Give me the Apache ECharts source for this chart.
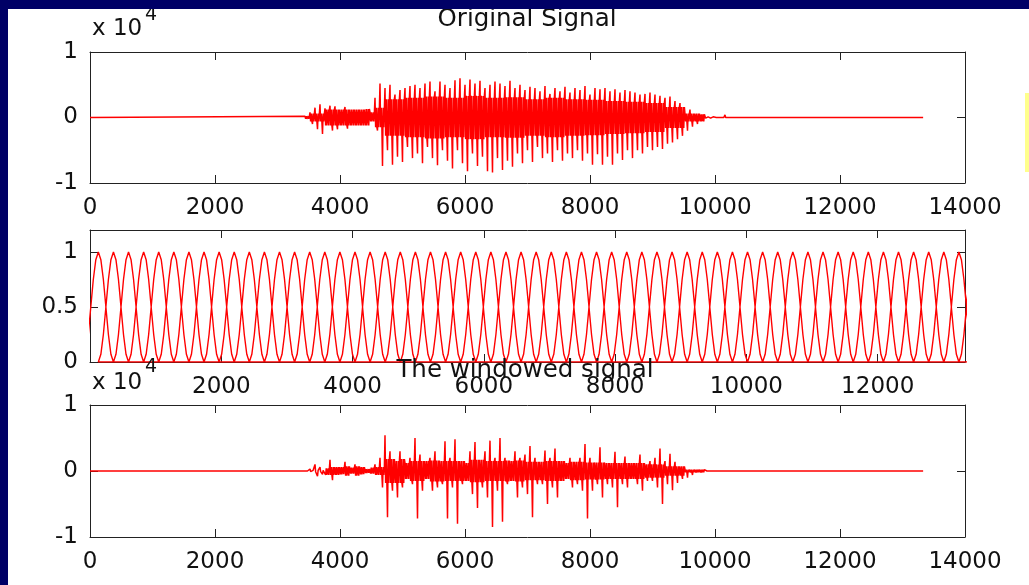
<!DOCTYPE html>
<html>
<head>
<meta charset="utf-8">
<title>Original Signal / The windowed signal</title>
<script src="https://cdn.jsdelivr.net/npm/echarts@6/dist/echarts.min.js"></script>
<style>
  html, body { margin: 0; padding: 0; background: #ffffff; }
  #main { width: 1029px; height: 585px; }
</style>
</head>
<body>
<div id="main"></div>
<script>
// tick labels
const sampleTicks = [0, 2000, 4000, 6000, 8000, 10000, 12000, 14000]
const winSampleTicks = [2000, 4000, 6000, 8000, 10000, 12000]
const ampTicks = [-1, 0, 1]          // x 10^4
const winAmpTicks = [0, 0.5, 1]
const titles = ['Original Signal', 'The windowed signal']

const signalLength = 13330

// speech envelope, read every 80 samples starting at sample 3440 (units of 10^4)
const envStart = 3440
const envStep = 80
const origTop = [0.02, 0.08, 0.15, 0.2, 0.14, 0.18, 0.17, 0.13, 0.16, 0.15, 0.12, 0.15, 0.13, 0.08,
  0.3, 0.52, 0.45, 0.5, 0.35, 0.42, 0.45, 0.48, 0.5, 0.45, 0.52, 0.55, 0.4, 0.55, 0.5, 0.45,
  0.57, 0.6, 0.5, 0.58, 0.52, 0.56, 0.45, 0.5, 0.55, 0.52, 0.48, 0.56, 0.45, 0.5, 0.42, 0.47,
  0.45, 0.4, 0.48, 0.36, 0.45, 0.4, 0.47, 0.38, 0.45, 0.42, 0.48, 0.35, 0.45, 0.43, 0.45, 0.4,
  0.43, 0.38, 0.42, 0.4, 0.38, 0.35, 0.36,
  0.38, 0.35, 0.33, 0.3, 0.32, 0.25, 0.22, 0.17, 0.12, 0.08, 0.05, 0.03, 0.01, 0, 0, 0.04, 0]
const origBot = [-0.02, -0.1, -0.18, -0.25, -0.15, -0.2, -0.18, -0.12, -0.17, -0.15, -0.13, -0.14, -0.12, -0.06,
  -0.2, -0.74, -0.5, -0.72, -0.6, -0.68, -0.45, -0.62, -0.55, -0.7, -0.45, -0.62, -0.73, -0.5, -0.66, -0.78,
  -0.5, -0.7, -0.82, -0.55, -0.74, -0.6, -0.82, -0.84, -0.62, -0.8, -0.66, -0.75, -0.55, -0.7, -0.5, -0.68,
  -0.45, -0.62, -0.55, -0.68, -0.5, -0.66, -0.55, -0.62, -0.5, -0.66, -0.55, -0.72, -0.56, -0.72, -0.6, -0.72,
  -0.55, -0.65, -0.5, -0.62, -0.5, -0.55, -0.45,
  -0.5, -0.45, -0.48, -0.4, -0.38, -0.33, -0.28, -0.2, -0.14, -0.1, -0.06, -0.03, -0.01, 0, 0, -0.01, 0]
const winTop = [0, 0.03, 0.1, 0.06, 0.04, 0.17, 0.08, 0.06, 0.14, 0.05, 0.1, 0.06, 0.03, 0.05, 0.1, 0.2,
  0.54, 0.3, 0.15, 0.3, 0.12, 0.2, 0.5, 0.25, 0.15, 0.2, 0.3, 0.15, 0.45, 0.2, 0.48, 0.15,
  0.12, 0.3, 0.44, 0.2, 0.3, 0.46, 0.2, 0.5, 0.2, 0.15, 0.3, 0.2, 0.25, 0.38, 0.2, 0.15,
  0.31, 0.2, 0.34, 0.15, 0.12, 0.2, 0.15, 0.2, 0.41, 0.2, 0.15, 0.36, 0.15, 0.15, 0.29, 0.15,
  0.22, 0.12, 0.15, 0.25, 0.15,
  0.15, 0.2, 0.34, 0.15, 0.26, 0.14, 0.1, 0.08, 0.05, 0.04, 0.02, 0.01, 0, 0, 0, 0, 0]
const winBot = [0, -0.02, -0.08, -0.05, -0.06, -0.14, -0.07, -0.05, -0.1, -0.04, -0.09, -0.05, -0.03, -0.04, -0.08, -0.25,
  -0.7, -0.3, -0.4, -0.25, -0.12, -0.2, -0.72, -0.3, -0.12, -0.3, -0.25, -0.2, -0.72, -0.25, -0.8, -0.2,
  -0.15, -0.35, -0.56, -0.25, -0.4, -0.85, -0.3, -0.77, -0.2, -0.15, -0.4, -0.25, -0.35, -0.7, -0.2, -0.2,
  -0.5, -0.25, -0.4, -0.15, -0.12, -0.25, -0.2, -0.3, -0.72, -0.3, -0.2, -0.4, -0.2, -0.25, -0.55, -0.2,
  -0.25, -0.15, -0.2, -0.3, -0.15,
  -0.15, -0.25, -0.5, -0.2, -0.29, -0.18, -0.12, -0.1, -0.06, -0.05, -0.04, -0.01, 0, 0, 0, 0, 0]

// dense core of the waveform, one value per 4 envelope steps (320 samples)
const coreGroup = 4
const origCore = [0.06, 0.12, 0.12, 0.15, 0.28, 0.3, 0.32, 0.3, 0.33, 0.3, 0.31,
  0.28, 0.3, 0.28, 0.27, 0.25, 0.24, 0.22, 0.16, 0.06, 0.01, 0]
const winCore = [0.01, 0.06, 0.07, 0.06, 0.18, 0.15, 0.16, 0.15, 0.17, 0.15, 0.16,
  0.14, 0.15, 0.14, 0.13, 0.12, 0.12, 0.1, 0.07, 0.02, 0, 0]

// one analysis window (two hops long)
const windowShape = [0, 0.07, 0.25, 0.5, 0.75, 0.93, 1, 0.93, 0.75, 0.5, 0.25, 0.07, 0]
const hop = 230
const firstPeak = 127

const textColor = '#111'
const frameColor = '#222'
const tickFont = 'DejaVu Sans'

function speechLine (top, bot, core) {
  const pts = [[0, 0]]
  const q = envStep / 8
  top.forEach((t, i) => {
    const s = envStart + i * envStep
    const up = Math.min(core[Math.floor(i / coreGroup)], t)
    const dn = Math.max(-core[Math.floor(i / coreGroup)], bot[i])
    pts.push([s, t], [s + q, dn], [s + 2 * q, up], [s + 3 * q, dn],
      [s + 4 * q, bot[i]], [s + 5 * q, up], [s + 6 * q, dn], [s + 7 * q, up])
  })
  pts.push([signalLength, 0])
  return pts
}

function windowLine () {
  const pts = []
  const step = 2 * hop / (windowShape.length - 1)
  for (let peak = firstPeak; peak - hop < signalLength; peak += hop) {
    windowShape.forEach((v, j) => {
      pts.push([peak - hop + j * step, v])
    })
  }
  return pts
}

function xAxes (grid, min, max, interval, labels) {
  const common = {
    gridIndex: grid,
    type: 'value',
    min: min,
    max: max,
    interval: interval,
    splitLine: {show: false},
    axisLine: {show: true, onZero: false, lineStyle: {color: frameColor, width: 1}},
    axisTick: {show: true, inside: true, length: 8, lineStyle: {color: frameColor}}
  }
  return [
    Object.assign({}, common, {
      position: 'bottom',
      axisLabel: {
        show: true,
        margin: 14,
        color: textColor,
        fontSize: 23,
        fontFamily: tickFont,
        showMinLabel: true,
        showMaxLabel: true,
        formatter: v => labels.includes(v) ? String(v) : ''
      }
    }),
    Object.assign({}, common, {position: 'top', axisLabel: {show: false}})
  ]
}

function yAxes (grid, min, max, interval, labels) {
  const common = {
    gridIndex: grid,
    type: 'value',
    min: min,
    max: max,
    interval: interval,
    splitLine: {show: false},
    axisLine: {show: true, onZero: false, lineStyle: {color: frameColor, width: 1}},
    axisTick: {show: true, inside: true, length: 8, lineStyle: {color: frameColor}}
  }
  return [
    Object.assign({}, common, {
      position: 'left',
      axisLabel: {
        show: true,
        margin: 12,
        color: textColor,
        fontSize: 23,
        fontFamily: tickFont,
        formatter: v => labels.includes(v) ? String(v) : ''
      }
    }),
    Object.assign({}, common, {position: 'right', axisLabel: {show: false}})
  ]
}

const chart = echarts.init(document.getElementById('main'), null, {renderer: 'canvas'})

const lineSeries = (idx, data, width) => ({
  type: 'line',
  xAxisIndex: idx * 2,
  yAxisIndex: idx * 2,
  data: data,
  showSymbol: false,
  symbol: 'none',
  clip: true,
  lineStyle: {color: '#ff0000', width: width},
  itemStyle: {color: '#ff0000'},
  animation: false,
  z: 5
})

const option = {
  backgroundColor: '#ffffff',
  animation: false,
  grid: [
    {left: 90, top: 52, width: 875, height: 131},
    {left: 90, top: 230, width: 875, height: 132},
    {left: 90, top: 405, width: 875, height: 132}
  ],
  xAxis: [].concat(
    xAxes(0, sampleTicks[0], sampleTicks[sampleTicks.length - 1], 2000, sampleTicks),
    xAxes(1, 0, signalLength, 2000, winSampleTicks),
    xAxes(2, sampleTicks[0], sampleTicks[sampleTicks.length - 1], 2000, sampleTicks)
  ),
  yAxis: [].concat(
    yAxes(0, ampTicks[0], ampTicks[ampTicks.length - 1], 1, ampTicks),
    yAxes(1, 0, 1.2, 0.5, winAmpTicks),
    yAxes(2, ampTicks[0], ampTicks[ampTicks.length - 1], 1, ampTicks)
  ),
  series: [
    lineSeries(0, speechLine(origTop, origBot, origCore), 1.5),
    lineSeries(1, windowLine(), 1.4),
    lineSeries(2, speechLine(winTop, winBot, winCore), 1.5)
  ],
  graphic: [
    // titles and the x 10^4 multipliers
    {type: 'text', z: 50, style: {text: titles[0], x: 527, y: 20, fill: textColor, font: '24.5px "DejaVu Sans"', textAlign: 'center', textVerticalAlign: 'middle'}},
    {type: 'text', z: 50, style: {text: titles[1], x: 525, y: 371, fill: textColor, font: '24.5px "DejaVu Sans"', textAlign: 'center', textVerticalAlign: 'middle'}},
    {type: 'text', z: 50, style: {text: 'x 10', x: 92, y: 29, fill: textColor, font: '23px "DejaVu Sans"', textAlign: 'left', textVerticalAlign: 'middle'}},
    {type: 'text', z: 50, style: {text: '4', x: 145, y: 15, fill: textColor, font: '19px "DejaVu Sans"', textAlign: 'left', textVerticalAlign: 'middle'}},
    {type: 'text', z: 50, style: {text: 'x 10', x: 92, y: 383, fill: textColor, font: '23px "DejaVu Sans"', textAlign: 'left', textVerticalAlign: 'middle'}},
    {type: 'text', z: 50, style: {text: '4', x: 145, y: 367, fill: textColor, font: '19px "DejaVu Sans"', textAlign: 'left', textVerticalAlign: 'middle'}},
    // slide frame
    {type: 'rect', z: 100, shape: {x: 0, y: 0, width: 8, height: 585}, style: {fill: '#000066'}},
    {type: 'rect', z: 100, shape: {x: 0, y: 0, width: 1029, height: 9}, style: {fill: '#000066'}},
    {type: 'rect', z: 100, shape: {x: 1025, y: 93, width: 4, height: 79}, style: {fill: '#ffff8c'}}
  ]
}

chart.setOption(option)
</script>
</body>
</html>
